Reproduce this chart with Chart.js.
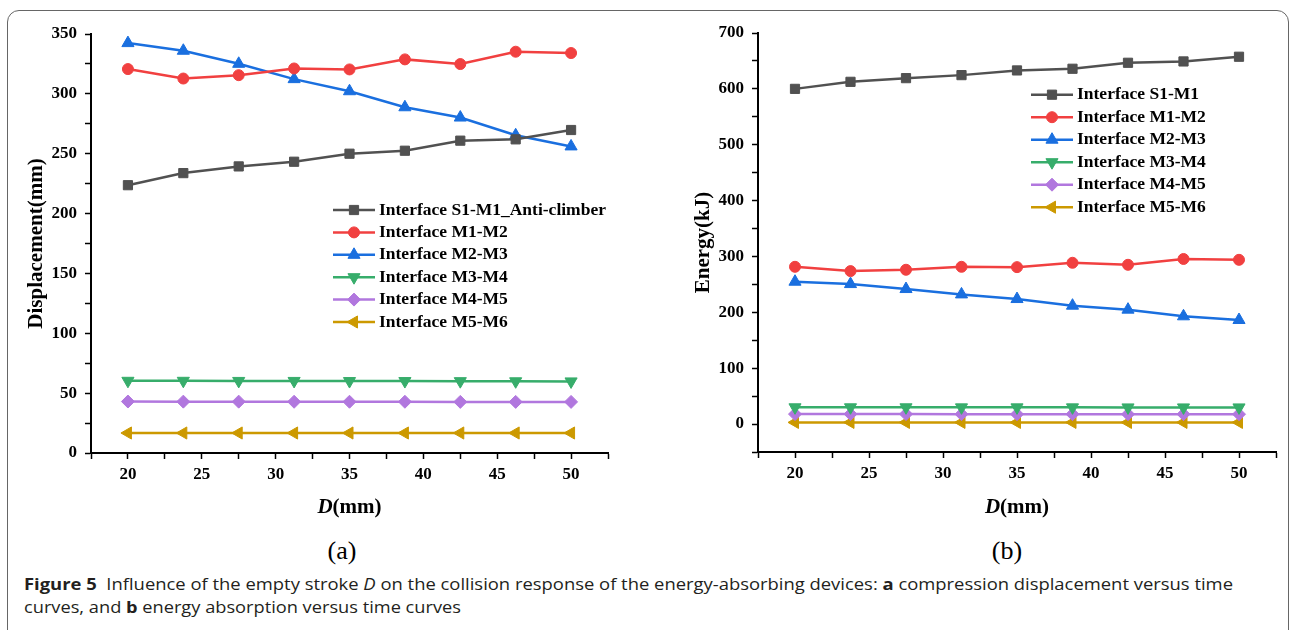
<!DOCTYPE html>
<html>
<head>
<meta charset="utf-8">
<title>Figure 5</title>
<script src="https://cdn.jsdelivr.net/npm/chart.js@4.4.1/dist/chart.umd.min.js"></script>
<style>
  html, body { margin: 0; padding: 0; background: #fff; }
  body { position: relative; width: 1293px; height: 630px; overflow: hidden; }
  .frame {
    position: absolute; left: 7px; top: 10px; width: 1282px; height: 700px;
    border: 1.5px solid #666; border-radius: 12px; box-sizing: border-box;
  }
  canvas { position: absolute; top: 0; }
  #dispChart { left: 0; }
  #energyChart { left: 650px; }
  .sub {
    position: absolute; top: 535px; width: 80px; text-align: center;
    font: 26px "Liberation Serif", serif; color: #000; line-height: 32px;
  }
  .caption {
    position: absolute; left: 24px; white-space: nowrap; transform-origin: 0 0;
    font-family: "Open Sans", sans-serif; font-size: 16px; line-height: 22px; color: #231f20;
  }
  .caption b { font-weight: 700; }
</style>
</head>
<body>
<div class="frame"></div>
<canvas id="dispChart" width="640" height="530"></canvas>
<canvas id="energyChart" width="643" height="530"></canvas>
<div class="sub" style="left:302px">(a)</div>
<div class="sub" style="left:967px">(b)</div>
<div class="caption" data-w="1209" style="top:573px"><b>Figure 5</b>&nbsp; Influence of the empty stroke <i>D</i> on the collision response of the energy-absorbing devices: <b>a</b> compression displacement versus time</div>
<div class="caption" data-w="437" style="top:596px">curves, and <b>b</b> energy absorption versus time curves</div>

<script>
// empty stroke D (mm)
const dValues = [20, 23.75, 27.5, 31.25, 35, 38.75, 42.5, 46.25, 50];

const dispLabels = ['Interface S1-M1_Anti-climber', 'Interface M1-M2', 'Interface M2-M3',
                    'Interface M3-M4', 'Interface M4-M5', 'Interface M5-M6'];
const energyLabels = ['Interface S1-M1', 'Interface M1-M2', 'Interface M2-M3',
                      'Interface M3-M4', 'Interface M4-M5', 'Interface M5-M6'];

// compression displacement (mm)
const dispS1M1 = [223.7, 233.8, 239.4, 243.3, 250.0, 252.5, 260.9, 262.0, 269.8];
const dispM1M2 = [320.7, 312.8, 315.6, 321.2, 320.4, 328.8, 324.9, 335.2, 334.1];
const dispM2M3 = [342.4, 336.0, 325.1, 312.3, 302.2, 288.8, 280.2, 265.4, 256.1];
const dispM3M4 = [60.3, 60.3, 60.2, 60.2, 60.1, 60.1, 60.0, 59.9, 59.8];
const dispM4M5 = [43.0, 42.9, 42.9, 42.8, 42.8, 42.8, 42.7, 42.7, 42.7];
const dispM5M6 = [16.7, 16.7, 16.7, 16.7, 16.7, 16.7, 16.7, 16.7, 16.7];

// absorbed energy (kJ)
const energyS1M1 = [600.0, 612.6, 619.2, 624.6, 633.0, 636.0, 646.7, 649.1, 657.5];
const energyM1M2 = [281.5, 273.8, 276.2, 281.5, 280.9, 288.7, 285.1, 295.5, 294.0];
const energyM2M3 = [254.8, 250.6, 241.7, 232.1, 223.8, 211.9, 204.8, 192.9, 186.3];
const energyM3M4 = [30.0, 30.0, 30.0, 29.9, 29.9, 29.9, 29.8, 29.8, 29.8];
const energyM4M5 = [17.8, 17.8, 17.8, 17.7, 17.7, 17.7, 17.7, 17.7, 17.7];
const energyM5M6 = [3.0, 3.0, 3.0, 3.0, 3.0, 3.0, 3.0, 3.0, 3.0];

// Origin style colours and markers, one per interface
const seriesStyle = [
  { color: '#515151', pointStyle: 'rect', radius: 6.5, rotation: 0 },
  { color: '#F14040', pointStyle: 'circle', radius: 5.5, rotation: 0 },
  { color: '#1A6FDF', pointStyle: 'triangle', radius: 7, rotation: 0 },
  { color: '#37AD6B', pointStyle: 'triangle', radius: 7, rotation: 180 },
  { color: '#B177DE', pointStyle: 'rectRot', radius: 6.5, rotation: 0 },
  { color: '#CC9900', pointStyle: 'triangle', radius: 7, rotation: 270 }
];

const SERIF = '"Liberation Serif", "Times New Roman", serif';
Chart.defaults.font.family = SERIF;
Chart.defaults.color = '#000';

function makeDatasets(labels, series) {
  return series.map(function (values, i) {
    const s = seriesStyle[i];
    return {
      label: labels[i],
      data: values.map(function (v, k) { return { x: dValues[k], y: v }; }),
      borderColor: s.color,
      backgroundColor: s.color,
      pointBackgroundColor: s.color,
      pointBorderColor: s.color,
      borderWidth: 2.5,
      pointStyle: s.pointStyle,
      pointRadius: s.radius,
      pointRotation: s.rotation,
      pointBorderWidth: 1,
      tension: 0,
      clip: false
    };
  });
}

// legend with a line sample and marker in front of every label
const lineLegend = {
  id: 'lineLegend',
  afterDatasetsDraw(chart, args, opts) {
    const ctx = chart.ctx;
    ctx.save();
    chart.data.datasets.forEach(function (ds, i) {
      const y = opts.y + i * opts.rowGap;
      ctx.strokeStyle = ds.borderColor;
      ctx.lineWidth = ds.borderWidth;
      ctx.beginPath();
      ctx.moveTo(opts.x, y);
      ctx.lineTo(opts.x + opts.lineLength, y);
      ctx.stroke();
      ctx.fillStyle = ds.pointBackgroundColor;
      ctx.lineWidth = 1;
      Chart.helpers.drawPoint(ctx, {
        pointStyle: ds.pointStyle,
        radius: ds.pointRadius,
        rotation: ds.pointRotation,
        borderWidth: 1
      }, opts.x + opts.lineLength / 2, y);
      ctx.fillStyle = '#000';
      ctx.font = 'bold 17.5px ' + SERIF;
      ctx.textAlign = 'left';
      ctx.textBaseline = 'middle';
      ctx.fillText(ds.label, opts.x + opts.lineLength + opts.gap, y);
    });
    ctx.restore();
  }
};

// x axis title, "D" in italics
const dTitle = {
  id: 'dTitle',
  afterDraw(chart, args, opts) {
    const ctx = chart.ctx;
    const area = chart.chartArea;
    const cx = (area.left + area.right) / 2;
    const italic = 'italic bold 21px ' + SERIF;
    const bold = 'bold 21px ' + SERIF;
    ctx.save();
    ctx.fillStyle = '#000';
    ctx.textBaseline = 'middle';
    ctx.textAlign = 'left';
    ctx.font = italic;
    const wD = ctx.measureText('D').width;
    ctx.font = bold;
    const wU = ctx.measureText('(mm)').width;
    const x0 = cx - (wD + wU) / 2;
    ctx.font = italic;
    ctx.fillText('D', x0, opts.y);
    ctx.font = bold;
    ctx.fillText('(mm)', x0 + wD, opts.y);
    ctx.restore();
  }
};

function axisGrid() {
  return { drawOnChartArea: false, drawTicks: true, tickLength: 6, tickWidth: 1.5, tickColor: '#000' };
}

function buildChart(canvasId, labels, series, cfg) {
  return new Chart(document.getElementById(canvasId), {
    type: 'line',
    data: { datasets: makeDatasets(labels, series) },
    plugins: [lineLegend, dTitle],
    options: {
      responsive: false,
      animation: false,
      layout: { padding: { left: 0, top: cfg.top, right: cfg.right, bottom: 0 } },
      plugins: {
        legend: { display: false },
        tooltip: { enabled: false },
        lineLegend: cfg.legend,
        dTitle: { y: 508 }
      },
      scales: {
        x: {
          type: 'linear',
          min: 17.5, max: 52.5,
          border: { color: '#000', width: 2 },
          grid: axisGrid(),
          ticks: {
            stepSize: 2.5, padding: 5, maxRotation: 0, autoSkip: false,
            font: { size: 17, weight: 'bold' },
            callback: function (v) { return v % 5 === 0 ? v : ''; }
          },
          afterFit: function (scale) {
            scale.height = cfg.xHeight;
            scale.paddingLeft = 0; scale.paddingRight = 0;
          }
        },
        y: {
          min: cfg.yMin, max: cfg.yMax,
          border: { color: '#000', width: 2 },
          grid: axisGrid(),
          title: {
            display: true, text: cfg.yTitle,
            font: { size: 21, weight: 'bold' },
            padding: { top: cfg.titlePad, bottom: 0 }
          },
          ticks: {
            stepSize: cfg.yMinor, padding: 8, autoSkip: false,
            font: { size: 17, weight: 'bold' },
            callback: function (v) { return v % cfg.yMajor === 0 ? v : ''; }
          },
          afterFit: function (scale) {
            scale.width = cfg.yWidth;
            scale.paddingTop = 0; scale.paddingBottom = 0;
          }
        }
      }
    }
  });
}

buildChart('dispChart', dispLabels,
  [dispS1M1, dispM1M2, dispM2M3, dispM3M4, dispM4M5, dispM5M6], {
    top: 34, right: 32, xHeight: 77, yWidth: 91, titlePad: 23.5,
    yMin: 0, yMax: 350, yMinor: 25, yMajor: 50, yTitle: 'Displacement(mm)',
    legend: { x: 333, y: 210, rowGap: 22.4, lineLength: 42, gap: 4 }
  });

buildChart('energyChart', energyLabels,
  [energyS1M1, energyM1M2, energyM2M3, energyM3M4, energyM4M5, energyM5M6], {
    top: 33, right: 17, xHeight: 78, yWidth: 108, titlePad: 40.5,
    yMin: -50, yMax: 700, yMinor: 50, yMajor: 100, yTitle: 'Energy(kJ)',
    legend: { x: 381, y: 94.7, rowGap: 22.5, lineLength: 42, gap: 4 }
  });

// squeeze each caption line to its printed width
document.querySelectorAll('.caption').forEach(function (el) {
  const w = el.getBoundingClientRect().width;
  el.style.transform = 'scaleX(' + (parseFloat(el.dataset.w) / w) + ')';
});
</script>
</body>
</html>
